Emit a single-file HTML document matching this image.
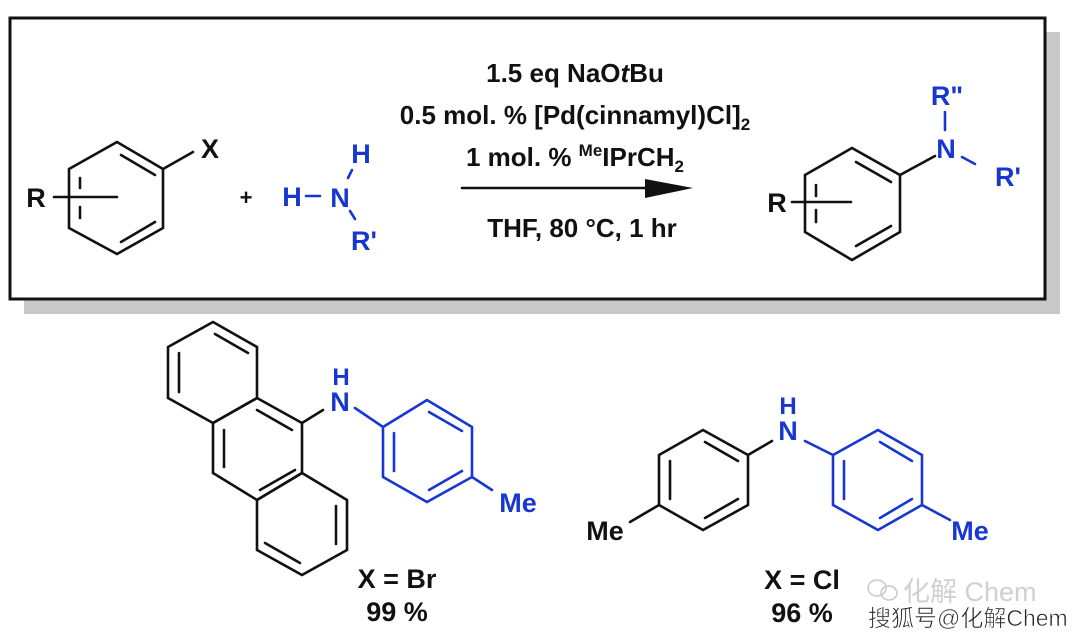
<!DOCTYPE html>
<html><head><meta charset="utf-8"><style>
html,body{margin:0;padding:0;background:#fff;}
svg{display:block;}
text{font-family:"Liberation Sans",Arial,sans-serif;font-weight:bold;}
</style></head><body>
<svg width="1080" height="638" viewBox="0 0 1080 638" xmlns="http://www.w3.org/2000/svg">
<rect x="24" y="32" width="1036" height="282" fill="#c9c9c9"/>
<rect x="10" y="18" width="1035" height="281" fill="#fff" stroke="#111" stroke-width="3"/>
<g stroke="#111" stroke-width="2.6" fill="none" stroke-linecap="round">
 <polygon points="117,142 163,169 163,228 117,254 69,228 69,169"/>
 <line x1="121" y1="155" x2="155" y2="175"/>
 <line x1="155" y1="222" x2="121" y2="242"/>
 <line x1="80" y1="178" x2="80" y2="188"/>
 <line x1="80" y1="207" x2="80" y2="218"/>
 <line x1="54" y1="197" x2="117" y2="197"/>
 <line x1="163" y1="169" x2="193" y2="152"/>
 <line x1="462" y1="188" x2="660" y2="188"/>
 <polygon points="852,148 900,175 900,232 852,260 805,232 805,175"/>
 <line x1="856" y1="162" x2="891" y2="182"/>
 <line x1="891" y1="226" x2="856" y2="246"/>
 <line x1="816" y1="185" x2="816" y2="196"/>
 <line x1="816" y1="210" x2="816" y2="222"/>
 <line x1="792" y1="202" x2="851" y2="202"/>
 <line x1="900" y1="175" x2="935" y2="156"/>
 <polygon points="213,322 257,347 257,398 213,423 168,398 168,347"/>
 <polygon points="257,398 302,423 302,473 257,500 213,473 213,423"/>
 <polygon points="302,473 347,500 347,550 302,575 257,550 257,500"/>
 <line x1="215" y1="334" x2="248" y2="353"/>
 <line x1="179" y1="353" x2="179" y2="392"/>
 <line x1="257" y1="410" x2="292" y2="430"/>
 <line x1="224" y1="430" x2="224" y2="467"/>
 <line x1="260" y1="490" x2="295" y2="470"/>
 <line x1="336" y1="506" x2="336" y2="544"/>
 <line x1="300" y1="563" x2="265" y2="543"/>
 <line x1="302" y1="423" x2="323" y2="410"/>
 <polygon points="703,430 748,455 748,505 703,530 659,505 659,455"/>
 <line x1="705" y1="442" x2="738" y2="461"/>
 <line x1="670" y1="461" x2="670" y2="499"/>
 <line x1="738" y1="499" x2="705" y2="518"/>
 <line x1="659" y1="505" x2="630" y2="522"/>
 <line x1="748" y1="455" x2="772" y2="441"/>
</g>
<polygon points="645,179 693,188 645,198" fill="#111"/>
<g stroke="#1737d0" stroke-width="2.6" fill="none" stroke-linecap="round">
 <line x1="306" y1="196" x2="320" y2="196"/>
 <line x1="352" y1="170" x2="348" y2="178"/>
 <line x1="350" y1="211" x2="355" y2="219"/>
 <line x1="945" y1="112" x2="945" y2="130"/>
 <line x1="962" y1="157" x2="975" y2="164"/>
 <polygon points="383,427 427,400 472,427 472,477 427,502 383,477"/>
 <line x1="394" y1="433" x2="394" y2="471"/>
 <line x1="429" y1="412" x2="462" y2="431"/>
 <line x1="462" y1="471" x2="429" y2="490"/>
 <line x1="355" y1="408" x2="383" y2="427"/>
 <line x1="472" y1="477" x2="492" y2="490"/>
 <polygon points="878,430 922,455 922,505 878,530 833,505 833,455"/>
 <line x1="844" y1="461" x2="844" y2="499"/>
 <line x1="880" y1="442" x2="912" y2="461"/>
 <line x1="912" y1="499" x2="880" y2="518"/>
 <line x1="805" y1="441" x2="833" y2="455"/>
 <line x1="922" y1="505" x2="950" y2="520"/>
</g>
<g fill="#111" font-size="27">
 <text x="36" y="207" text-anchor="middle">R</text>
 <text x="210" y="158" text-anchor="middle">X</text>
 <text x="246" y="205" text-anchor="middle" font-size="22">+</text>
 <text x="575" y="82" text-anchor="middle" font-size="26">1.5 eq NaO<tspan font-style="italic">t</tspan>Bu</text>
 <text x="575" y="124" text-anchor="middle" font-size="26">0.5 mol. %  [Pd(cinnamyl)Cl]<tspan font-size="17" dy="6">2</tspan></text>
 <text x="575" y="166" text-anchor="middle" font-size="26">1 mol. %  <tspan font-size="17" dy="-10">Me</tspan><tspan dy="10">IPrCH</tspan><tspan font-size="17" dy="6">2</tspan></text>
 <text x="582" y="237" text-anchor="middle" font-size="26">THF, 80 °C, 1 hr</text>
 <text x="777" y="212" text-anchor="middle">R</text>
 <text x="397" y="588" text-anchor="middle">X = Br</text>
 <text x="397" y="621" text-anchor="middle">99 %</text>
 <text x="605" y="540" text-anchor="middle">Me</text>
 <text x="802" y="589" text-anchor="middle">X = Cl</text>
 <text x="802" y="622" text-anchor="middle">96 %</text>
</g>
<g fill="#1737d0" font-size="27">
 <text x="292" y="206" text-anchor="middle">H</text>
 <text x="340" y="207" text-anchor="middle">N</text>
 <text x="361" y="163" text-anchor="middle">H</text>
 <text x="364" y="250" text-anchor="middle">R'</text>
 <text x="947" y="105" text-anchor="middle">R"</text>
 <text x="946" y="158" text-anchor="middle">N</text>
 <text x="1008" y="186" text-anchor="middle">R'</text>
 <text x="340" y="411" text-anchor="middle">N</text>
 <text x="341" y="385" text-anchor="middle" font-size="24">H</text>
 <text x="518" y="512" text-anchor="middle">Me</text>
 <text x="788" y="440" text-anchor="middle">N</text>
 <text x="788" y="414" text-anchor="middle" font-size="24">H</text>
 <text x="970" y="540" text-anchor="middle">Me</text>
</g>
<g fill="none" stroke="#c8c8c8" stroke-width="1.5">
 <ellipse cx="877" cy="588" rx="9" ry="8"/>
 <ellipse cx="889" cy="593" rx="8" ry="7"/>
</g>
<text x="903" y="601" font-size="27" fill="#d0d0d0" style="font-family:'Liberation Sans','Noto Sans CJK SC',sans-serif;font-weight:normal">化解 Chem</text>
<text x="868" y="626" font-size="23" fill="#222" stroke="#fff" stroke-width="0.6" style="font-family:'Liberation Sans','Noto Sans CJK SC',sans-serif;font-weight:normal">搜狐号@化解Chem</text>
</svg>
</body></html>
